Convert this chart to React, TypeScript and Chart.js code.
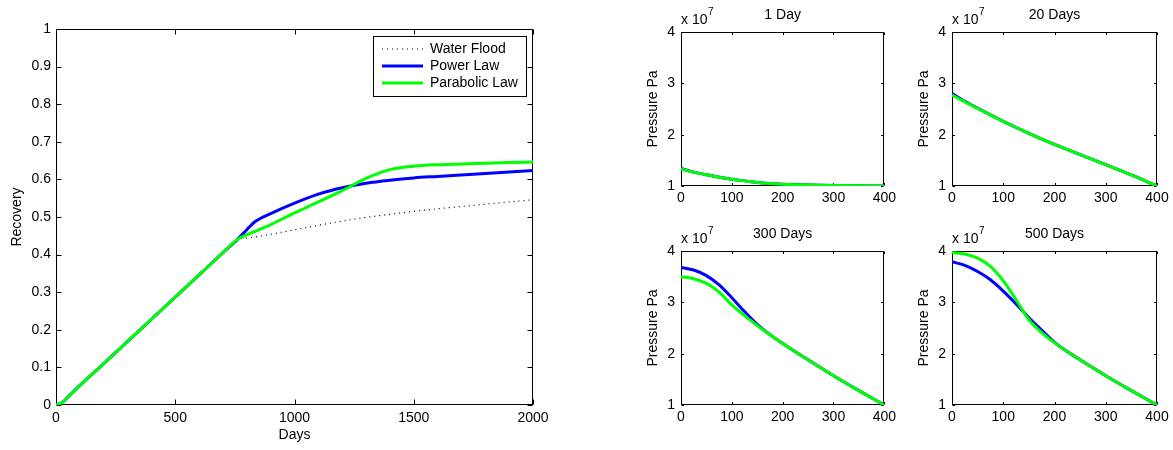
import React, { useEffect, useRef } from "react";
import { Chart, registerables } from "chart.js";
Chart.register(...registerables);

const FONT = '"Liberation Sans", Arial, Helvetica, sans-serif';
const BLUE = "#0000ff";
const GREEN = "#00ff00";

// ---- Left chart: recovery vs days ----
const recoveryDays = [0, 25, 50, 100, 200, 300, 400, 500, 600, 700, 760, 800, 835, 900, 1000, 1100, 1200, 1300, 1400, 1500, 1600, 1700, 1800, 1900, 2000];
const waterFlood = [0, 0.006, 0.021, 0.052, 0.11, 0.169, 0.228, 0.287, 0.346, 0.405, 0.44, 0.444, 0.447, 0.454, 0.466, 0.478, 0.489, 0.499, 0.507, 0.515, 0.522, 0.528, 0.534, 0.54, 0.546];
const powerLaw = [0, 0.006, 0.021, 0.052, 0.11, 0.169, 0.228, 0.287, 0.346, 0.405, 0.44, 0.466, 0.488, 0.509, 0.537, 0.561, 0.578, 0.59, 0.598, 0.604, 0.608, 0.612, 0.616, 0.62, 0.624];
const parabolicLaw = [0, 0.006, 0.021, 0.052, 0.11, 0.169, 0.228, 0.287, 0.346, 0.405, 0.44, 0.453, 0.462, 0.48, 0.511, 0.54, 0.57, 0.603, 0.626, 0.635, 0.639, 0.641, 0.643, 0.645, 0.646];
const seriesNames = ["Water Flood", "Power Law", "Parabolic Law"];

// ---- Right panels: pressure (x 10^7 Pa) vs distance ----
const distance = [0, 25, 50, 75, 100, 125, 150, 175, 200, 250, 300, 350, 400];
const panelTitles = ["1 Day", "20 Days", "300 Days", "500 Days"];
const p1DayPower = [1.34, 1.27, 1.22, 1.17, 1.13, 1.1, 1.07, 1.05, 1.035, 1.02, 1.01, 1.004, 1.0];
const p1DayParabolic = [1.33, 1.27, 1.22, 1.17, 1.13, 1.1, 1.07, 1.05, 1.035, 1.02, 1.01, 1.004, 1.0];
const p20DaysPower = [2.8, 2.65, 2.515, 2.385, 2.26, 2.14, 2.025, 1.915, 1.81, 1.61, 1.415, 1.215, 1.0];
const p20DaysParabolic = [2.77, 2.64, 2.51, 2.385, 2.26, 2.14, 2.025, 1.915, 1.81, 1.61, 1.415, 1.215, 1.0];
const p300DaysPower = [3.68, 3.63, 3.52, 3.34, 3.09, 2.82, 2.57, 2.37, 2.2, 1.88, 1.57, 1.28, 1.0];
const p300DaysParabolic = [3.5, 3.46, 3.37, 3.2, 2.95, 2.74, 2.55, 2.37, 2.2, 1.88, 1.57, 1.28, 1.0];
const p500DaysPower = [3.79, 3.72, 3.6, 3.44, 3.22, 2.97, 2.7, 2.46, 2.22, 1.88, 1.57, 1.28, 1.0];
const p500DaysParabolic = [3.97, 3.94, 3.86, 3.7, 3.42, 3.05, 2.66, 2.41, 2.21, 1.88, 1.57, 1.28, 1.0];

type Box = { x: number; y: number; w: number; h: number; yW: number; xH: number; padR: number; padT: number };

function lineDs(label: string, xs: number[], ys: number[], color: string, width: number, order: number, dash: number[] = []) {
  return {
    label,
    data: xs.map((x, i) => ({ x, y: ys[i] })),
    borderColor: color,
    backgroundColor: color,
    borderWidth: width,
    borderDash: dash,
    pointRadius: 0,
    fill: false,
    cubicInterpolationMode: "monotone",
    order,
  };
}

function makeScales(b: Box, xr: [number, number, number], yr: [number, number, number], xPad: number, yPad: number, yFmt: (v: number) => string) {
  const tickFont = { family: FONT, size: 14 };
  return {
    x: {
      type: "linear",
      min: xr[0],
      max: xr[1],
      grid: { display: false, drawTicks: false },
      border: { display: false },
      ticks: { stepSize: xr[2], padding: xPad, autoSkip: false, maxRotation: 0, color: "#000", font: tickFont, callback: (v: number) => String(v) },
      afterFit: (s: any) => { s.height = b.xH; },
    },
    y: {
      type: "linear",
      min: yr[0],
      max: yr[1],
      grid: { display: false, drawTicks: false },
      border: { display: false },
      ticks: { stepSize: yr[2], padding: yPad, autoSkip: false, color: "#000", font: tickFont, callback: (v: number) => yFmt(v) },
      afterFit: (s: any) => { s.width = b.yW; },
    },
  };
}

function framePlugin(tickLen: number, drawTexts: (ctx: CanvasRenderingContext2D, a: any) => void) {
  return {
    id: "frameDeco",
    beforeDatasetsDraw(chart: any) {
      const { ctx, chartArea: a, scales } = chart;
      ctx.save();
      ctx.strokeStyle = "#000";
      ctx.lineWidth = 1;
      const L = Math.round(a.left) + 0.5, R = Math.round(a.right) - 0.5;
      const T = Math.round(a.top) + 0.5, B = Math.round(a.bottom) - 0.5;
      ctx.strokeRect(L, T, R - L, B - T);
      ctx.beginPath();
      scales.x.ticks.forEach((t: any) => {
        const px = Math.round(scales.x.getPixelForValue(t.value)) + 0.5;
        ctx.moveTo(px, B); ctx.lineTo(px, B - tickLen);
        ctx.moveTo(px, T); ctx.lineTo(px, T + tickLen);
      });
      scales.y.ticks.forEach((t: any) => {
        const py = Math.round(scales.y.getPixelForValue(t.value)) + 0.5;
        ctx.moveTo(L, py); ctx.lineTo(L + tickLen, py);
        ctx.moveTo(R, py); ctx.lineTo(R - tickLen, py);
      });
      ctx.stroke();
      ctx.restore();
    },
    afterDraw(chart: any) {
      const { ctx, chartArea: a } = chart;
      ctx.save();
      ctx.fillStyle = "#000";
      drawTexts(ctx, a);
      ctx.restore();
    },
  };
}

function rotText(ctx: CanvasRenderingContext2D, text: string, x: number, y: number) {
  ctx.save();
  ctx.translate(x, y);
  ctx.rotate(-Math.PI / 2);
  ctx.textAlign = "center";
  ctx.textBaseline = "middle";
  ctx.fillText(text, 0, 0);
  ctx.restore();
}

function mainConfig(b: Box) {
  const ds = [
    lineDs(seriesNames[0], recoveryDays, waterFlood, "#000", 1.2, 2, [1, 4]),
    lineDs(seriesNames[1], recoveryDays, powerLaw, BLUE, 3, 1),
    lineDs(seriesNames[2], recoveryDays, parabolicLaw, GREEN, 3, 0),
  ];
  return {
    type: "line",
    data: { datasets: ds },
    options: {
      animation: false,
      responsive: false,
      devicePixelRatio: 1,
      layout: { padding: { left: 0, top: b.padT, right: b.padR, bottom: 0 } },
      plugins: { legend: { display: false }, tooltip: { enabled: false }, title: { display: false } },
      scales: makeScales(b, [0, 2000, 500], [0, 1, 0.1], 5, 5, (v) => String(Math.round(v * 10) / 10)),
    },
    plugins: [
      framePlugin(5, (ctx, a) => {
        ctx.font = `14px ${FONT}`;
        rotText(ctx, "Recovery", a.left - 39, (a.top + a.bottom) / 2);
        ctx.textAlign = "center";
        ctx.textBaseline = "middle";
        ctx.fillText("Days", (a.left + a.right) / 2, a.bottom + 30);
        // legend
        const w = 153, h = 60;
        const bx = Math.round(a.right) - 7 - w, by = Math.round(a.top) + 7;
        ctx.fillStyle = "#fff";
        ctx.fillRect(bx, by, w, h);
        ctx.strokeStyle = "#000";
        ctx.lineWidth = 1;
        ctx.strokeRect(bx + 0.5, by + 0.5, w, h);
        const styles = [
          { c: "#000", w: 1.2, d: [1, 4] },
          { c: BLUE, w: 3, d: [] as number[] },
          { c: GREEN, w: 3, d: [] as number[] },
        ];
        seriesNames.forEach((name, i) => {
          const y = by + 13 + i * 17;
          ctx.strokeStyle = styles[i].c;
          ctx.lineWidth = styles[i].w;
          ctx.setLineDash(styles[i].d);
          ctx.beginPath();
          ctx.moveTo(bx + 9, y);
          ctx.lineTo(bx + 50, y);
          ctx.stroke();
          ctx.setLineDash([]);
          ctx.fillStyle = "#000";
          ctx.textAlign = "left";
          ctx.textBaseline = "middle";
          ctx.fillText(name, bx + 57, y);
        });
      }),
    ],
  };
}

function panelConfig(b: Box, title: string, power: number[], parabolic: number[]) {
  const ds = [
    lineDs("Power Law", distance, power, BLUE, 3, 1),
    lineDs("Parabolic Law", distance, parabolic, GREEN, 3, 0),
  ];
  return {
    type: "line",
    data: { datasets: ds },
    options: {
      animation: false,
      responsive: false,
      devicePixelRatio: 1,
      layout: { padding: { left: 0, top: b.padT, right: b.padR, bottom: 0 } },
      plugins: { legend: { display: false }, tooltip: { enabled: false }, title: { display: false } },
      scales: makeScales(b, [0, 400, 100], [1, 4, 1], 4, 6, (v) => String(v)),
    },
    plugins: [
      framePlugin(2.5, (ctx, a) => {
        ctx.font = `14px ${FONT}`;
        rotText(ctx, "Pressure Pa", a.left - 28, (a.top + a.bottom) / 2);
        ctx.textAlign = "center";
        ctx.textBaseline = "middle";
        ctx.fillText(title, (a.left + a.right) / 2, a.top - 17);
        ctx.textAlign = "left";
        const base = "x 10";
        ctx.fillText(base, a.left, a.top - 12);
        const bw = ctx.measureText(base).width;
        ctx.font = `10px ${FONT}`;
        ctx.fillText("7", a.left + bw + 0.5, a.top - 20);
      }),
    ],
  };
}

function PlotCanvas({ b, config }: { b: Box; config: any }) {
  const ref = useRef<HTMLCanvasElement>(null);
  useEffect(() => {
    const chart = new Chart(ref.current as HTMLCanvasElement, config);
    return () => chart.destroy();
  }, []);
  return (
    <canvas
      ref={ref}
      width={b.w}
      height={b.h}
      style={{ position: "absolute", left: b.x, top: b.y, width: b.w, height: b.h }}
    />
  );
}

const mainBox: Box = { x: 0, y: 0, w: 570, h: 450, yW: 56, xH: 45, padR: 37, padT: 29 };
const boxTL: Box = { x: 620, y: 0, w: 280, h: 220, yW: 61, xH: 34, padR: 14, padT: 32 };
const boxTR: Box = { x: 890, y: 0, w: 283, h: 220, yW: 62, xH: 34, padR: 16, padT: 32 };
const boxBL: Box = { x: 620, y: 220, w: 280, h: 230, yW: 61, xH: 45, padR: 14, padT: 31 };
const boxBR: Box = { x: 890, y: 220, w: 283, h: 230, yW: 62, xH: 45, padR: 16, padT: 31 };

export default function App() {
  return (
    <div style={{ position: "absolute", left: 0, top: 0, width: 1173, height: 450, background: "#fff", overflow: "hidden" }}>
      <PlotCanvas b={mainBox} config={mainConfig(mainBox)} />
      <PlotCanvas b={boxTL} config={panelConfig(boxTL, panelTitles[0], p1DayPower, p1DayParabolic)} />
      <PlotCanvas b={boxTR} config={panelConfig(boxTR, panelTitles[1], p20DaysPower, p20DaysParabolic)} />
      <PlotCanvas b={boxBL} config={panelConfig(boxBL, panelTitles[2], p300DaysPower, p300DaysParabolic)} />
      <PlotCanvas b={boxBR} config={panelConfig(boxBR, panelTitles[3], p500DaysPower, p500DaysParabolic)} />
    </div>
  );
}
